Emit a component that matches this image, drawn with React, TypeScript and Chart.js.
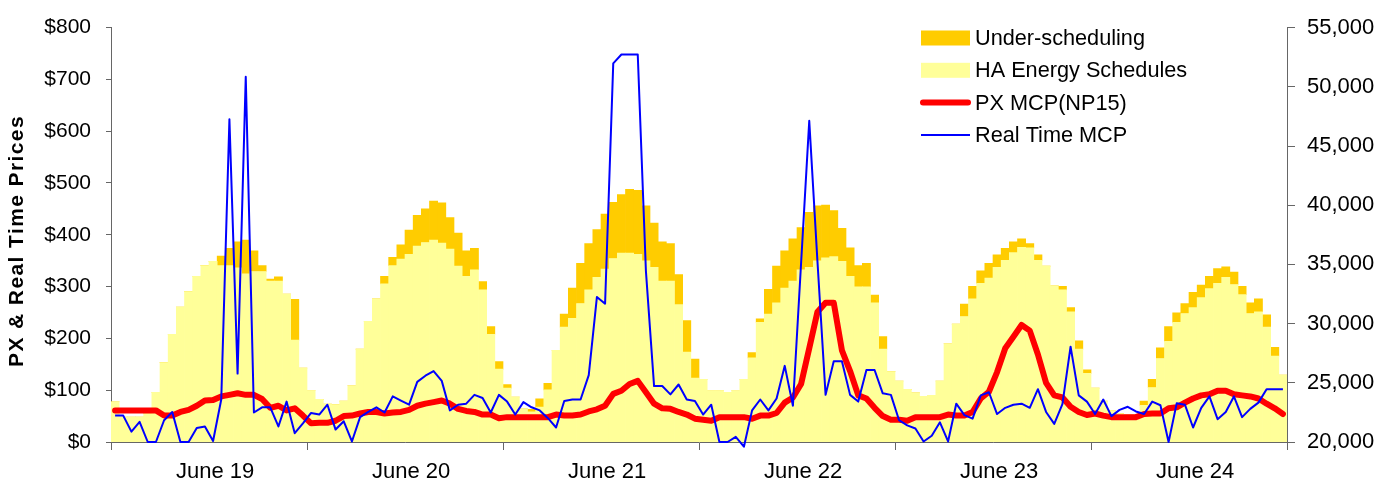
import { useEffect, useRef } from "react";
import { Chart, registerables } from "chart.js";

Chart.register(...registerables);

// Day labels along the bottom axis (24 hourly intervals per day)
const dayLabels = ["June 19", "June 20", "June 21", "June 22", "June 23", "June 24"];

// Hour-ahead energy schedules, MW (right axis)
const haSchedules = [
  23400, 22100, 22100, 22100, 22400, 24200, 26700, 29100, 31400, 32700, 34000, 34900, 35250, 34900, 34900, 34700, 34200, 34400, 34400, 33600, 33600, 32500, 28600, 26250,
  24350, 23600, 23200, 23150, 23450, 24750, 27850, 30200, 32100, 33350, 34900, 35450, 35850, 36550, 36850, 37050, 36800, 36300, 34850, 34000, 34550, 32850, 29100, 26150,
  24550, 23800, 22800, 22550, 22950, 24400, 27750, 29700, 30450, 31700, 32850, 33900, 34600, 35500, 35950, 35950, 35850, 35300, 34750, 33600, 33600, 31600, 27600, 25400,
  25300, 24350, 24350, 24200, 24350, 25300, 27100, 30100, 30800, 31750, 33000, 33600, 34550, 34750, 35300, 35550, 35650, 35250, 34000, 33100, 33100, 31750, 27850, 25950,
  25150, 24450, 24150, 23850, 23950, 25150, 28300, 29950, 30600, 32100, 33400, 33850, 34750, 35350, 36000, 36450, 36400, 35350, 34850, 33200, 32850, 31000, 27850, 25800,
  24550, 23450, 22650, 22400, 22300, 22300, 23100, 24600, 27050, 28500, 30100, 30850, 31350, 32200, 32950, 33400, 33900, 33300, 32450, 30850, 31000, 29700, 27250, 25650,
];

// Under-scheduled load stacked above the schedules, MW (right axis)
const underScheduling = [
  0, 0, 0, 0, 0, 0, 0, 0, 0, 0, 0, 0, 0, 800, 1450, 2200, 2850, 1750, 500, 150, 350, 0, 3450, 0,
  0, 0, 0, 0, 0, 0, 0, 0, 0, 650, 700, 1200, 2050, 2600, 2850, 3300, 3400, 2650, 2800, 2150, 1800, 700, 650, 650,
  300, 0, 0, 200, 700, 550, 0, 1100, 2550, 3400, 3900, 4050, 4650, 4750, 4950, 5400, 5400, 4650, 3750, 3300, 3150, 2550, 2650, 1600,
  0, 0, 0, 0, 0, 0, 450, 300, 2100, 3100, 3150, 3550, 3550, 4650, 4650, 4450, 3900, 2800, 2400, 1800, 2000, 650, 1050, 0,
  0, 0, 0, 0, 0, 0, 0, 0, 1050, 1050, 1050, 1250, 1050, 1000, 900, 700, 350, 450, 0, 0, 300, 350, 700, 300,
  0, 0, 0, 0, 0, 0, 350, 700, 900, 1250, 800, 850, 1300, 1050, 1050, 1250, 900, 1050, 700, 900, 1100, 1050, 750, 0,
];

// PX market clearing price, NP15, $/MWh (left axis)
const pxMcp = [
  61, 61, 61, 61, 61, 61, 51, 51, 58, 62, 70, 80, 81, 88, 91, 94, 91, 91, 83, 66, 70, 61, 65, 51,
  36, 37, 37, 41, 50, 51, 55, 58, 58, 55, 57, 58, 62, 70, 74, 77, 80, 74, 64, 60, 58, 53, 53, 46,
  48, 48, 48, 48, 48, 48, 53, 51, 51, 53, 59, 63, 70, 93, 99, 112, 118, 96, 74, 65, 64, 58, 53, 45,
  43, 41, 48, 48, 48, 48, 45, 51, 51, 56, 76, 86, 112, 181, 251, 269, 269, 177, 137, 90, 84, 66, 50, 43,
  43, 41, 48, 48, 48, 48, 53, 51, 51, 58, 84, 97, 135, 181, 203, 226, 215, 169, 114, 90, 86, 68, 58, 52,
  55, 51, 48, 48, 48, 48, 54, 55, 55, 65, 67, 76, 84, 90, 92, 99, 99, 92, 90, 88, 84, 74, 65, 54,
];

// Real-time market clearing price, $/MWh (left axis)
const realTimeMcp = [
  51, 51, 20, 39, 0, 0, 42, 58, 0, 0, 27, 30, 2, 82, 623, 132, 705, 57, 67, 67, 30, 78, 17, 36,
  56, 53, 72, 24, 40, 1, 48, 58, 67, 57, 88, 80, 72, 116, 128, 137, 118, 61, 72, 74, 91, 85, 57, 91,
  78, 53, 77, 67, 61, 46, 28, 79, 82, 82, 129, 280, 267, 731, 748, 748, 748, 330, 108, 108, 92, 111, 82, 79,
  53, 72, 0, 0, 10, -9, 61, 82, 61, 84, 147, 70, 345, 620, 350, 91, 156, 156, 91, 78, 139, 139, 94, 91,
  42, 32, 26, 1, 12, 38, 1, 74, 52, 45, 90, 96, 54, 66, 72, 74, 66, 102, 58, 35, 73, 184, 90, 78,
  54, 82, 50, 62, 68, 59, 54, 78, 71, 0, 75, 72, 28, 66, 88, 44, 58, 88, 48, 64, 76, 102, 102, 102,
];

const priceAxisTitle = "PX & Real Time Prices";
const legendOrder = ["Under-scheduling", "HA Energy Schedules", "PX MCP(NP15)", "Real Time MCP"];

const FONT = 'Arial, "Liberation Sans", sans-serif';
const AXIS_COLOR = "#666666";
const HOURS_PER_DAY = 24;
// Day names sit slightly right of the middle of each day
const LABEL_POS = 12.75;

// Each hourly value sits in the middle of its one-hour slot
const hourly = (values: number[]) => values.map((y, i) => ({ x: i + 0.5, y }));

const seriesKeyPlugin = {
  id: "seriesKey",
  afterDraw(chart: any) {
    const { ctx } = chart;
    const datasets = chart.data.datasets;
    ctx.save();
    ctx.font = `21.7px ${FONT}`;
    ctx.textBaseline = "middle";
    ctx.textAlign = "left";
    legendOrder.forEach((label, row) => {
      const ds = datasets.find((d: any) => d.label === label);
      if (!ds) return;
      const cy = 38 + row * 32.3;
      const x0 = 921;
      const x1 = 970;
      if (ds.type === "bar") {
        ctx.fillStyle = ds.backgroundColor;
        ctx.fillRect(x0, cy - 7.5, x1 - x0, 15);
      } else {
        const thick = ds.borderWidth > 3;
        ctx.strokeStyle = ds.borderColor;
        ctx.lineWidth = ds.borderWidth;
        ctx.lineCap = thick ? "round" : "butt";
        ctx.beginPath();
        ctx.moveTo(x0 + (thick ? 2 : 0), cy);
        ctx.lineTo(x1 - (thick ? 2 : 0), cy);
        ctx.stroke();
      }
      ctx.fillStyle = "#000000";
      ctx.fillText(label, 975, cy + 1);
    });
    ctx.restore();
  },
};

const axisTitlePlugin = {
  id: "priceAxisTitle",
  afterDraw(chart: any) {
    const { ctx } = chart;
    ctx.save();
    ctx.translate(17, 241);
    ctx.rotate(-Math.PI / 2);
    ctx.font = `bold 21px ${FONT}`;
    (ctx as any).letterSpacing = "1.4px";
    ctx.fillStyle = "#000000";
    ctx.textAlign = "center";
    ctx.textBaseline = "middle";
    ctx.fillText(priceAxisTitle, 0, 0);
    ctx.restore();
  },
};

export default function App() {
  const canvasRef = useRef<HTMLCanvasElement | null>(null);

  useEffect(() => {
    const canvas = canvasRef.current;
    if (!canvas) return;
    const totalHours = dayLabels.length * HOURS_PER_DAY;

    const chart = new Chart(canvas, {
      type: "bar",
      data: {
        datasets: [
          {
            type: "line",
            label: "Real Time MCP",
            data: hourly(realTimeMcp),
            yAxisID: "y",
            borderColor: "#0000FF",
            borderWidth: 2,
            pointRadius: 0,
            tension: 0,
            borderJoinStyle: "round",
            clip: false,
            order: 0,
          },
          {
            type: "line",
            label: "PX MCP(NP15)",
            data: hourly(pxMcp),
            yAxisID: "y",
            borderColor: "#FF0000",
            borderWidth: 6,
            pointRadius: 0,
            tension: 0,
            borderJoinStyle: "round",
            borderCapStyle: "round",
            order: 1,
          },
          {
            type: "bar",
            label: "HA Energy Schedules",
            data: hourly(haSchedules),
            yAxisID: "y1",
            stack: "load",
            backgroundColor: "#FFFF99",
            borderWidth: 0,
            barPercentage: 1,
            categoryPercentage: 1,
            order: 2,
          },
          {
            type: "bar",
            label: "Under-scheduling",
            data: hourly(underScheduling),
            yAxisID: "y1",
            stack: "load",
            backgroundColor: "#FFCC00",
            borderWidth: 0,
            barPercentage: 1,
            categoryPercentage: 1,
            order: 3,
          },
        ] as any,
      },
      options: {
        animation: false,
        responsive: false,
        maintainAspectRatio: false,
        devicePixelRatio: 1,
        layout: { padding: { top: 22, left: 0, right: 0, bottom: 0 } },
        plugins: {
          legend: { display: false },
          tooltip: { enabled: false },
        },
        scales: {
          x: {
            type: "linear",
            position: "bottom",
            min: 0,
            max: totalHours,
            offset: false,
            afterBuildTicks: (scale: any) => {
              // day boundaries carry tick marks, day names go between them
              const ticks = [];
              for (let d = 0; d <= dayLabels.length; d++) {
                ticks.push({ value: d * HOURS_PER_DAY });
                if (d < dayLabels.length) ticks.push({ value: d * HOURS_PER_DAY + LABEL_POS });
              }
              scale.ticks = ticks;
            },
            afterFit: (scale: any) => {
              scale.height = 49;
            },
            ticks: {
              autoSkip: false,
              maxRotation: 0,
              minRotation: 0,
              padding: 9,
              color: "#000000",
              font: { family: FONT, size: 22 },
              callback: (value: any) => {
                const v = Number(value);
                if (v % HOURS_PER_DAY === 0) return "";
                return dayLabels[Math.floor(v / HOURS_PER_DAY)];
              },
            },
            grid: {
              offset: false,
              drawOnChartArea: false,
              drawTicks: true,
              tickLength: 8,
              tickWidth: 1,
              tickColor: (ctx: any) =>
                ctx.tick && ctx.tick.value % HOURS_PER_DAY === 0 ? AXIS_COLOR : "rgba(0,0,0,0)",
            },
            border: { display: true, color: AXIS_COLOR, width: 1 },
          },
          y: {
            position: "left",
            min: 0,
            max: 800,
            afterFit: (scale: any) => {
              scale.width = 111;
            },
            ticks: {
              stepSize: 100,
              padding: 15,
              color: "#000000",
              font: { family: FONT, size: 21 },
              callback: (value: any) => `$${value}`,
            },
            grid: { drawOnChartArea: false, tickLength: 5, tickColor: AXIS_COLOR },
            border: { display: true, color: AXIS_COLOR, width: 1 },
          },
          y1: {
            position: "right",
            min: 20000,
            max: 55000,
            stacked: true,
            afterFit: (scale: any) => {
              scale.width = 106;
            },
            ticks: {
              stepSize: 5000,
              padding: 12,
              color: "#000000",
              font: { family: FONT, size: 22 },
              callback: (value: any) => Number(value).toLocaleString("en-US"),
            },
            grid: { drawOnChartArea: false, tickLength: 8, tickColor: AXIS_COLOR },
            border: { display: true, color: AXIS_COLOR, width: 1 },
          },
        },
      } as any,
      plugins: [seriesKeyPlugin, axisTitlePlugin],
    });

    return () => chart.destroy();
  }, []);

  return (
    <div style={{ position: "fixed", left: 0, top: 0, width: 1393, height: 491, background: "#ffffff" }}>
      <canvas ref={canvasRef} width={1393} height={491} style={{ display: "block" }} />
    </div>
  );
}
